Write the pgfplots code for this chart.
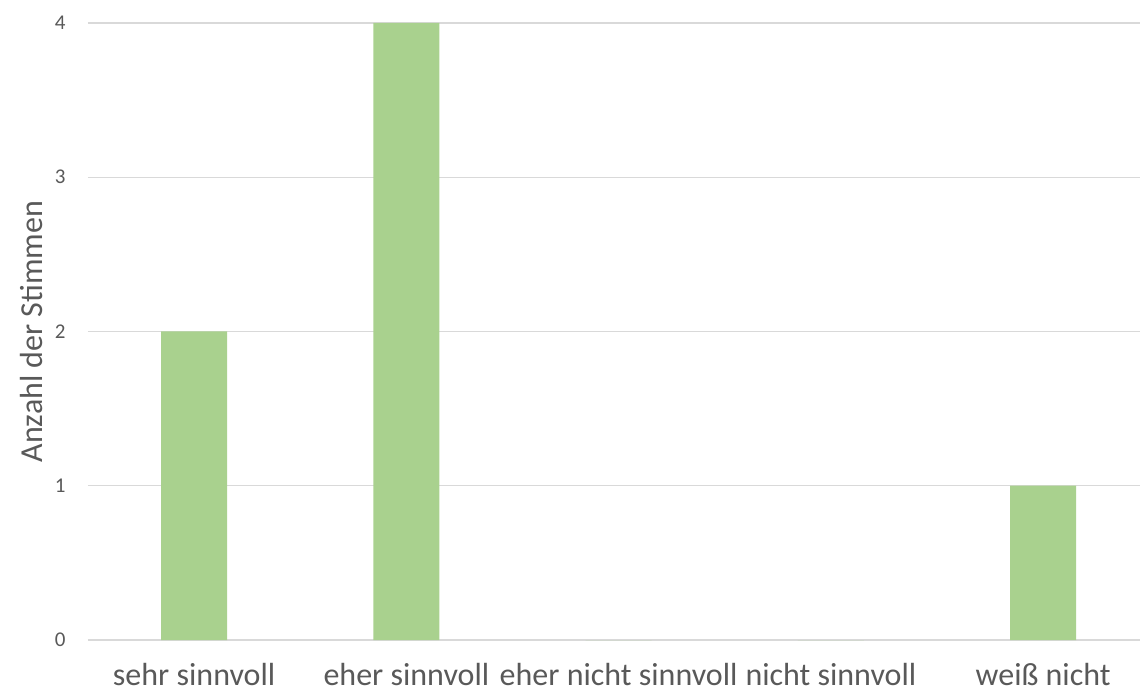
\documentclass[border=0pt]{standalone}
\usepackage{fontspec}
\setmainfont{Carlito}
\usepackage{pgfplots}
\pgfplotsset{compat=1.18}
\definecolor{barg}{HTML}{A9D18E}
\definecolor{gridc}{HTML}{D9D9D9}
\definecolor{txt}{HTML}{595959}
\begin{document}
\begin{tikzpicture}
\useasboundingbox (-88bp,-54bp) rectangle (1052bp,640bp);
\begin{axis}[
  at={(0,0)}, anchor=south west,
  scale only axis,
  width=1052bp, height=617bp,
  xmin=-0.5, xmax=4.456,
  ymin=0, ymax=4,
  ytick={0,1,2,3,4},
  xtick={0,1,2,3,4},
  xticklabels={sehr sinnvoll, eher sinnvoll, eher nicht sinnvoll, nicht sinnvoll, weiß nicht},
  axis line style={draw=none},
  major tick length=0pt,
  ymajorgrids,
  grid style={gridc, line width=1.2bp},
  ybar, bar width=66bp,
  /pgf/number format/assume math mode=true,
  yticklabel style={font=\fontsize{21bp}{24bp}\selectfont, text=txt, xshift=-19bp},
  xticklabel style={font=\fontsize{32bp}{36bp}\selectfont, text=txt, inner sep=0pt, yshift=-23bp},
  ylabel={Anzahl der Stimmen},
  every axis y label/.style={at={(axis description cs:0,0.5)}, rotate=90, anchor=center, yshift=56bp,
    font=\fontsize{32bp}{36bp}\selectfont, text=txt},
  clip=false,
]
\addplot[fill=barg, draw=none] coordinates {(0,2) (1,4) (2,0) (3,0) (4,1)};
\end{axis}
\end{tikzpicture}
\end{document}
